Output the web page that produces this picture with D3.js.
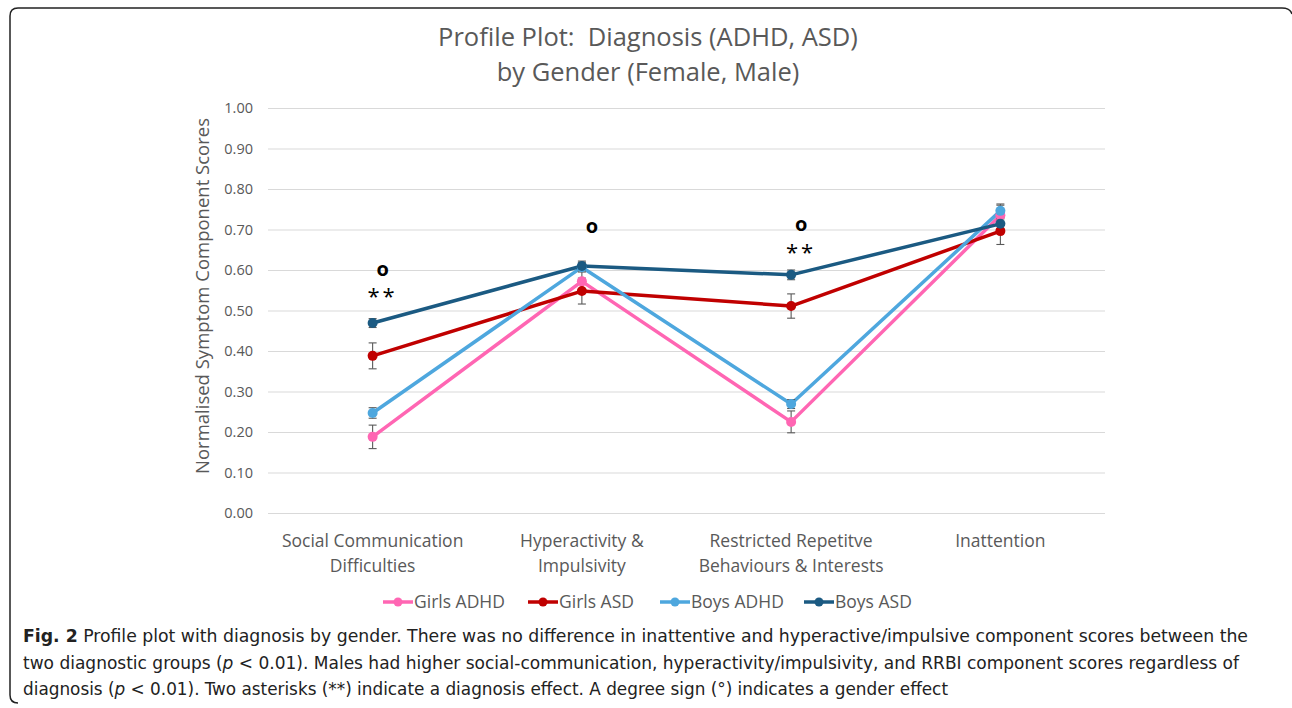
<!DOCTYPE html>
<html>
<head>
<meta charset="utf-8">
<script src="https://cdn.jsdelivr.net/npm/d3@7"></script>
<style>
  body { margin: 0; background: #fff; }
  svg { display: block; }
</style>
</head>
<body>
<svg id="chart"></svg>
<script>
const categories = [
  ["Social Communication", "Difficulties"],
  ["Hyperactivity &", "Impulsivity"],
  ["Restricted Repetitve", "Behaviours & Interests"],
  ["Inattention"]
];
const seriesNames = ["Girls ADHD", "Girls ASD", "Boys ADHD", "Boys ASD"];
const seriesColors = ["#ff66b3", "#c00000", "#4ea7de", "#1b5a82"];
const girlsADHD = [0.188, 0.572, 0.225, 0.735];
const girlsASD = [0.388, 0.548, 0.511, 0.696];
const boysADHD = [0.247, 0.607, 0.269, 0.746];
const boysASD = [0.469, 0.610, 0.588, 0.714];
const girlsADHDErr = [0.029, 0.03, 0.027, 0.025];
const girlsASDErr = [0.032, 0.032, 0.030, 0.033];
const boysADHDErr = [0.013, 0.012, 0.011, 0.017];
const boysASDErr = [0.011, 0.012, 0.012, 0.012];
const yTicks = [0, 0.1, 0.2, 0.3, 0.4, 0.5, 0.6, 0.7, 0.8, 0.9, 1.0];
// significance marks: category index, symbol, y value
const marks = [
  { cat: 0, text: "o", y: 0.600 },
  { cat: 0, text: "**", y: 0.548 },
  { cat: 1, text: "o", y: 0.707 },
  { cat: 2, text: "o", y: 0.712 },
  { cat: 2, text: "**", y: 0.658 }
];
const captionLines = [
  ["Fig. 2", " Profile plot with diagnosis by gender. There was no difference in inattentive and hyperactive/impulsive component scores between the"],
  ["", "two diagnostic groups (", "p", " < 0.01). Males had higher social-communication, hyperactivity/impulsivity, and RRBI component scores regardless of"],
  ["", "diagnosis (", "p", " < 0.01). Two asterisks (**) indicate a diagnosis effect. A degree sign (°) indicates a gender effect"]
];

const W = 1292, H = 708;
const svg = d3.select("#chart").attr("width", W).attr("height", H);
const font = "'Open Sans', 'Noto Sans', sans-serif";
const grey = "#595959";

// frame
svg.append("path")
  .attr("d", "M18,703 Q10,703 10,695 L10,16 Q10,8 18,8 L1282,8 Q1290,8 1292,14")
  .attr("fill", "none").attr("stroke", "#222").attr("stroke-width", 1.5);

const x = d3.scaleBand().domain(d3.range(categories.length)).range([268, 1105]);
const y = d3.scaleLinear().domain([0, 1]).range([513, 108]);
const cx = i => x(i) + x.bandwidth() / 2;

// gridlines + y labels
const yAxis = svg.append("g")
  .attr("transform", "translate(268,0)")
  .call(d3.axisLeft(y).tickValues(yTicks).tickFormat(d3.format(".2f")).tickSize(-(1105 - 268)).tickPadding(15));
yAxis.select(".domain").remove();
yAxis.selectAll(".tick line").attr("stroke", "#d9d9d9").attr("stroke-width", 1.2);
yAxis.selectAll(".tick text").attr("fill", grey).style("font-family", font).style("font-size", "14.5px");

svg.append("text")
  .attr("transform", "translate(209,296) rotate(-90)")
  .attr("text-anchor", "middle")
  .attr("fill", grey).style("font-family", font).style("font-size", "18.5px")
  .text("Normalised Symptom Component Scores");

// title
svg.append("text").attr("x", 648).attr("y", 46).attr("text-anchor", "middle")
  .attr("fill", grey).style("font-family", font).style("font-size", "25.5px")
  .style("white-space", "pre")
  .text("Profile Plot:  Diagnosis (ADHD, ASD)");
svg.append("text").attr("x", 648).attr("y", 81).attr("text-anchor", "middle")
  .attr("fill", grey).style("font-family", font).style("font-size", "25.5px")
  .text("by Gender (Female, Male)");

// category labels
categories.forEach((lines, i) => {
  lines.forEach((l, j) => {
    svg.append("text").attr("x", cx(i)).attr("y", 547 + j * 25).attr("text-anchor", "middle")
      .attr("fill", grey).style("font-family", font).style("font-size", "17.5px").text(l);
  });
});

const values = [girlsADHD, girlsASD, boysADHD, boysASD];
const errs = [girlsADHDErr, girlsASDErr, boysADHDErr, boysASDErr];
const line = d3.line().x((d, i) => cx(i)).y(d => y(d));

// lines
values.forEach((vals, s) => {
  svg.append("path").datum(vals).attr("d", line)
    .attr("fill", "none").attr("stroke", seriesColors[s]).attr("stroke-width", 3.5)
    .attr("stroke-linejoin", "round");
});
// error bars
values.forEach((vals, s) => {
  const g = svg.append("g").attr("stroke", grey).attr("stroke-width", 1.1);
  vals.forEach((v, i) => {
    const e = errs[s][i];
    g.append("line").attr("x1", cx(i)).attr("x2", cx(i)).attr("y1", y(v - e)).attr("y2", y(v + e));
    g.append("line").attr("x1", cx(i) - 4).attr("x2", cx(i) + 4).attr("y1", y(v - e)).attr("y2", y(v - e));
    g.append("line").attr("x1", cx(i) - 4).attr("x2", cx(i) + 4).attr("y1", y(v + e)).attr("y2", y(v + e));
  });
});
// markers
values.forEach((vals, s) => {
  svg.append("g").selectAll("circle").data(vals).enter().append("circle")
    .attr("cx", (d, i) => cx(i)).attr("cy", d => y(d)).attr("r", 5)
    .attr("fill", seriesColors[s]);
});

// significance marks
marks.forEach(m => {
  const t = svg.append("text").attr("x", cx(m.cat) + 10).attr("text-anchor", "middle")
    .attr("fill", "#000").style("font-family", font);
  if (m.text === "o") {
    t.attr("y", y(m.y) + 6).style("font-size", "20px").style("font-weight", "bold").text("o");
  } else {
    t.attr("y", y(m.y) + 13).style("font-size", "22px").style("letter-spacing", "3px").text("**");
  }
});

// legend
const legendX = [383, 528, 660, 804];
seriesNames.forEach((n, s) => {
  const g = svg.append("g").attr("transform", `translate(${legendX[s]},602)`);
  g.append("line").attr("x1", 0).attr("x2", 30).attr("stroke", seriesColors[s]).attr("stroke-width", 3.5);
  g.append("circle").attr("cx", 15).attr("r", 4.5).attr("fill", seriesColors[s]);
  g.append("text").attr("x", 31).attr("y", 6).attr("fill", grey)
    .style("font-family", font).style("font-size", "17.5px").text(n);
});

// caption
const capFont = "'Liberation Sans Narrow', 'DejaVu Sans Condensed', sans-serif";
const capWidths = [1225, 1216, 925];
captionLines.forEach((parts, li) => {
  const t = svg.append("text").attr("x", 23).attr("y", 642 + li * 26.5)
    .attr("fill", "#222").style("font-family", capFont).style("font-size", "17.5px")
    .attr("textLength", capWidths[li]).attr("lengthAdjust", "spacingAndGlyphs");
  parts.forEach((p, k) => {
    if (!p) return;
    const sp = t.append("tspan").text(p);
    if (li === 0 && k === 0) sp.style("font-weight", "bold");
    if (k === 2) sp.style("font-style", "italic");
  });
});
</script>
</body>
</html>
